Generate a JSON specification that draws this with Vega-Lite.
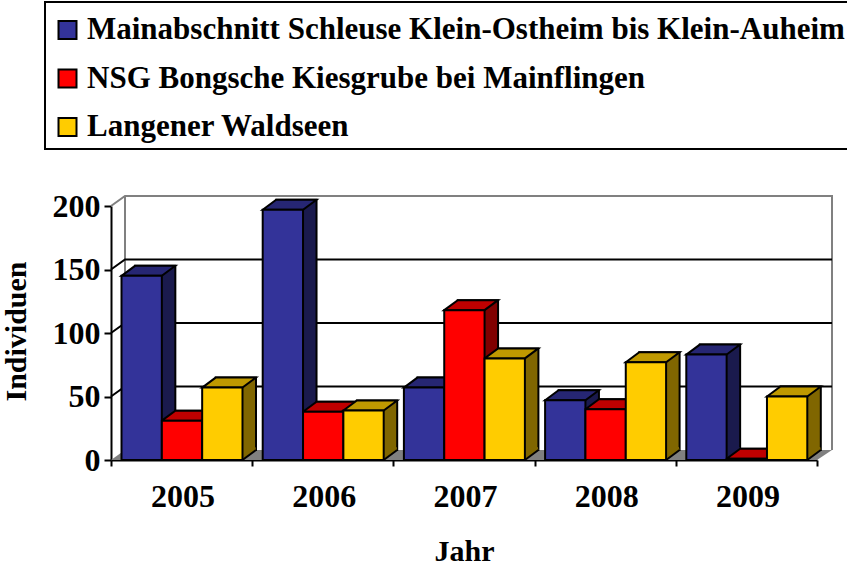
{
"$schema":"https://vega.github.io/schema/vega-lite/v6.json",
"width":706,"height":254,
"autosize":{"type":"none"},
"padding":{"left":111,"top":206,"right":30,"bottom":107},
"background":"white",
"config":{"view":{"stroke":null},"font":"Liberation Serif","legend":{"strokeWidth":2}},
"datasets":{
"bars":[
{"Jahr":"2005","Gebiet":"Mainabschnitt Schleuse Klein-Ostheim bis Klein-Auheim","Individuen":145},
{"Jahr":"2005","Gebiet":"NSG Bongsche Kiesgrube bei Mainflingen","Individuen":31},
{"Jahr":"2005","Gebiet":"Langener Waldseen","Individuen":57},
{"Jahr":"2006","Gebiet":"Mainabschnitt Schleuse Klein-Ostheim bis Klein-Auheim","Individuen":197},
{"Jahr":"2006","Gebiet":"NSG Bongsche Kiesgrube bei Mainflingen","Individuen":38},
{"Jahr":"2006","Gebiet":"Langener Waldseen","Individuen":39},
{"Jahr":"2007","Gebiet":"Mainabschnitt Schleuse Klein-Ostheim bis Klein-Auheim","Individuen":57},
{"Jahr":"2007","Gebiet":"NSG Bongsche Kiesgrube bei Mainflingen","Individuen":118},
{"Jahr":"2007","Gebiet":"Langener Waldseen","Individuen":80},
{"Jahr":"2008","Gebiet":"Mainabschnitt Schleuse Klein-Ostheim bis Klein-Auheim","Individuen":47},
{"Jahr":"2008","Gebiet":"NSG Bongsche Kiesgrube bei Mainflingen","Individuen":40},
{"Jahr":"2008","Gebiet":"Langener Waldseen","Individuen":77},
{"Jahr":"2009","Gebiet":"Mainabschnitt Schleuse Klein-Ostheim bis Klein-Auheim","Individuen":83},
{"Jahr":"2009","Gebiet":"NSG Bongsche Kiesgrube bei Mainflingen","Individuen":1},
{"Jahr":"2009","Gebiet":"Langener Waldseen","Individuen":50}
],
"grid":[{"Jahr":"2005","Individuen":50},{"Jahr":"2005","Individuen":100},{"Jahr":"2005","Individuen":150}],
"top":[{"Jahr":"2005","Individuen":200}],
"floor":[{"Jahr":"2005","Individuen":0}]
},
"layer":[
{"data":{"name":"floor"},"mark":{"type":"point","shape":"M0 0 L14 -10 L721 -10 L706 0 Z","size":4,"fill":"#808080","filled":true,"opacity":1,"stroke":null},
"encoding":{
"x":{"field":"Jahr","type":"nominal","bandPosition":0,"scale":{"domain":["2005","2006","2007","2008","2009"],"paddingInner":0,"paddingOuter":0},
"axis":{"labelAngle":0,"title":"Jahr","titleFont":"Liberation Serif","titleFontSize":30,"titleFontWeight":"bold","titleColor":"black","titleY":76,"labelOffset":1,
"labelFont":"Liberation Serif","labelFontSize":32,"labelFontWeight":"bold","labelColor":"black","labelPadding":15,"domainColor":"black","domainWidth":2,"tickColor":"black","tickWidth":2,"tickSize":6,"tickBand":"extent"}},
"y":{"field":"Individuen","type":"quantitative","scale":{"domain":[0,200],"nice":false},
"axis":{"values":[0,50,100,150,200],"grid":false,"title":"Individuen","titleFont":"Liberation Serif","titleFontSize":30,"titleFontWeight":"bold","titleColor":"black","titleX":-80,"titleY":125,
"labelFont":"Liberation Serif","labelFontSize":32,"labelFontWeight":"bold","labelColor":"black","labelPadding":4,"domainColor":"black","domainWidth":2,"tickColor":"black","tickWidth":2,"tickSize":7}}
}},
{"data":{"name":"top"},"mark":{"type":"point","shape":"M0 0 L14 -10 L721 -10 L721 244 M14 -10 L14 244","size":4,"fill":"transparent","opacity":1,"stroke":"#808080","strokeWidth":2},
"encoding":{"x":{"field":"Jahr","type":"nominal","bandPosition":0},"y":{"field":"Individuen","type":"quantitative"}}},
{"data":{"name":"grid"},"mark":{"type":"point","shape":"M0 0 L14 -10 L721 -10","size":4,"fill":"transparent","opacity":1,"stroke":"black","strokeWidth":2},
"encoding":{"x":{"field":"Jahr","type":"nominal","bandPosition":0},"y":{"field":"Individuen","type":"quantitative"}}},
{"data":{"name":"bars"},"mark":{"type":"bar","yOffset":-10,"y2Offset":-10,"stroke":"black","strokeWidth":2},
"encoding":{
"x":{"field":"Jahr","type":"nominal"},
"xOffset":{"field":"Gebiet","type":"nominal","sort":null,"scale":{"type":"band","domain":["Mainabschnitt Schleuse Klein-Ostheim bis Klein-Auheim","NSG Bongsche Kiesgrube bei Mainflingen","Langener Waldseen"],"range":[24,145],"paddingInner":0,"paddingOuter":0}},
"y":{"field":"Individuen","type":"quantitative"},
"color":{"field":"Gebiet","type":"nominal","sort":null,"legend":null,"scale":{"domain":["Mainabschnitt Schleuse Klein-Ostheim bis Klein-Auheim","NSG Bongsche Kiesgrube bei Mainflingen","Langener Waldseen"],"range":["#1A1A4D","#800000","#806600"]}}
}},
{"data":{"name":"bars"},"mark":{"type":"point","shape":"M20.15 0 L33.65 -10 L33 -13 L20.15 -13 Z","size":4,"filled":true,"opacity":1,"stroke":null},
"encoding":{
"x":{"field":"Jahr","type":"nominal"},
"xOffset":{"field":"Gebiet","type":"nominal","sort":null,"scale":{"type":"band","domain":["Mainabschnitt Schleuse Klein-Ostheim bis Klein-Auheim","NSG Bongsche Kiesgrube bei Mainflingen","Langener Waldseen"],"range":[10.5,131.5],"paddingInner":0,"paddingOuter":0}},
"y":{"datum":0,"type":"quantitative"},
"color":{"field":"Gebiet","type":"nominal","sort":null,"legend":null,"scale":{"domain":["Mainabschnitt Schleuse Klein-Ostheim bis Klein-Auheim","NSG Bongsche Kiesgrube bei Mainflingen","Langener Waldseen"],"range":["#1A1A4D","#800000","#806600"]}}
}},
{"data":{"name":"bars"},"mark":{"type":"point","shape":"M20.15 0 L33.65 -10","size":4,"fill":"transparent","opacity":1,"stroke":"black","strokeWidth":2},
"encoding":{
"x":{"field":"Jahr","type":"nominal"},
"xOffset":{"field":"Gebiet","type":"nominal","sort":null,"scale":{"type":"band","domain":["Mainabschnitt Schleuse Klein-Ostheim bis Klein-Auheim","NSG Bongsche Kiesgrube bei Mainflingen","Langener Waldseen"],"range":[10.5,131.5],"paddingInner":0,"paddingOuter":0}},
"y":{"datum":0,"type":"quantitative"}
}},
{"data":{"name":"bars"},"mark":{"type":"point","shape":"M-20.15 0 L-6.65 -10 L33.65 -10 L20.15 0 Z","size":4,"filled":true,"opacity":1,"stroke":"black","strokeWidth":2},
"encoding":{
"x":{"field":"Jahr","type":"nominal"},
"xOffset":{"field":"Gebiet","type":"nominal","sort":null,"scale":{"type":"band","domain":["Mainabschnitt Schleuse Klein-Ostheim bis Klein-Auheim","NSG Bongsche Kiesgrube bei Mainflingen","Langener Waldseen"],"range":[10.5,131.5],"paddingInner":0,"paddingOuter":0}},
"y":{"field":"Individuen","type":"quantitative"},
"color":{"field":"Gebiet","type":"nominal","sort":null,"legend":null,"scale":{"domain":["Mainabschnitt Schleuse Klein-Ostheim bis Klein-Auheim","NSG Bongsche Kiesgrube bei Mainflingen","Langener Waldseen"],"range":["#262673","#BF0000","#BF9900"]}}
}},
{"data":{"name":"bars"},"mark":{"type":"bar","stroke":"black","strokeWidth":2},
"encoding":{
"x":{"field":"Jahr","type":"nominal"},
"xOffset":{"field":"Gebiet","type":"nominal","sort":null,"scale":{"type":"band","domain":["Mainabschnitt Schleuse Klein-Ostheim bis Klein-Auheim","NSG Bongsche Kiesgrube bei Mainflingen","Langener Waldseen"],"range":[10.5,131.5],"paddingInner":0,"paddingOuter":0}},
"y":{"field":"Individuen","type":"quantitative"},
"color":{"field":"Gebiet","type":"nominal","sort":null,"scale":{"domain":["Mainabschnitt Schleuse Klein-Ostheim bis Klein-Auheim","NSG Bongsche Kiesgrube bei Mainflingen","Langener Waldseen"],"range":["#333399","#FF0000","#FFCC00"]},
"legend":{"title":" ","titleFontSize":1,"titlePadding":4.5,"orient":"none","legendX":-66,"legendY":-204,"fillColor":"white","strokeColor":"black","padding":7,"labelFont":"Liberation Serif","labelFontSize":31,"labelFontWeight":"bold","labelColor":"black","labelLimit":900,"labelOffset":4,"symbolType":"square","symbolSize":324,"symbolStrokeColor":"black","symbolStrokeWidth":2,"rowPadding":16.5,"symbolOpacity":1}}
}}
],
"resolve":{"scale":{"color":"independent","xOffset":"independent"}}
}
